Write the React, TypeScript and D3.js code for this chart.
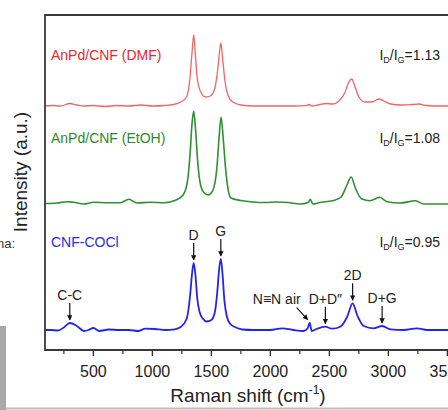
import React from 'react';
import * as d3 from 'd3';

// ---------- data (Raman shift cm-1, relative intensity a.u.) ----------
const cnfCoclSpectrum: [number, number][] = [
  [90, 0], [140, 0], [200, -0.5], [250, 2.5], [300, 7], [360, 4], [420, -1], [460, 0], [500, 2], [550, -1],
  [630, 0.5], [720, 0], [800, 0], [880, -1], [940, 1.3], [1020, 1], [1110, 0], [1190, 0.7], [1240, 3],
  [1290, 11], [1320, 35], [1335, 55], [1350, 67], [1365, 55], [1380, 32], [1400, 18], [1430, 11], [1460, 8.5],
  [1500, 10], [1530, 18], [1550, 38], [1565, 60], [1580, 71], [1595, 55], [1610, 30], [1630, 14], [1660, 6],
  [1700, 3], [1730, 1.5], [1760, 0.5], [1860, 0], [2000, 0], [2100, 1.7], [2195, 0], [2280, -1], [2316, 1.7],
  [2333, 7.3], [2350, -1], [2396, 1.3], [2466, 3.3], [2523, 1.3], [2593, 3.3], [2650, 13], [2697, 26.7],
  [2735, 15], [2791, 4], [2875, 1.7], [2947, 4], [3017, 0.7], [3130, 0], [3243, 1.7], [3328, 0], [3500, 0], [3600, 0],
];

const etohSpectrum: [number, number][] = [
  [90, -0.5], [190, 0], [280, 1.3], [330, 0.7], [420, -1], [500, 0.7], [620, 0.3], [730, 0.3], [800, 3.7],
  [870, 0], [980, 0.7], [1100, 0.3], [1200, 3], [1260, 8], [1295, 20], [1320, 50], [1335, 78], [1350, 92],
  [1365, 75], [1385, 40], [1410, 17], [1440, 10], [1475, 8], [1510, 12], [1545, 33], [1565, 65], [1582, 86],
  [1600, 65], [1620, 35], [1640, 15], [1665, 5], [1750, 2.5], [1850, 1], [1950, 0.5], [2050, 1], [2150, 0.5],
  [2250, -1], [2320, 0.5], [2338, 3.7], [2360, -1], [2420, 0.5], [2480, 1.5], [2550, 3], [2600, 6], [2645, 17],
  [2685, 26], [2720, 15], [2775, 4], [2845, 2.3], [2925, 5.7], [2990, 1.3], [3100, 0], [3230, 2.3], [3300, -1],
  [3500, -1], [3600, -1],
];

const dmfSpectrum: [number, number][] = [
  [90, 0], [160, 0.5], [220, 0], [300, 2.5], [360, 1], [420, 0], [500, 0.5], [600, -0.5], [700, 0.5], [800, 0],
  [900, 1], [1000, 0], [1100, 0.5], [1180, 1.5], [1240, 4], [1290, 9], [1320, 30], [1335, 52], [1350, 71],
  [1365, 50], [1380, 28], [1410, 14], [1450, 9], [1490, 10], [1530, 18], [1555, 38], [1570, 55], [1580, 63],
  [1595, 48], [1615, 25], [1640, 11], [1680, 4], [1750, 1], [1850, 0], [2000, 0], [2200, 0], [2300, 0.3],
  [2330, 1.5], [2350, 0], [2420, 1.5], [2470, 2.5], [2530, 2], [2580, 5], [2630, 13], [2665, 24], [2690, 27],
  [2715, 20], [2750, 9], [2800, 4], [2860, 4], [2920, 7], [2960, 5], [3020, 2], [3100, 1], [3200, 1.5],
  [3260, 2], [3320, 0.5], [3450, 0], [3600, 0],
];

const seriesNames = ['AnPd/CNF (DMF)', 'AnPd/CNF (EtOH)', 'CNF-COCl'];
const seriesOffsets = [244, 147, 20];
const ratioValues = ['1.13', '1.08', '0.95'];

const peakLabels = ['C-C', 'D', 'G', 'N\u2261N air', 'D+D\u2033', '2D', 'D+G'];
const peakPositions = [300, 1350, 1580, 2333, 2466, 2697, 2947];

const majorTicks = [500, 1000, 1500, 2000, 2500, 3000, 3500];
const minorTicks = [250, 750, 1250, 1750, 2250, 2750, 3250];

// ---------- layout ----------
const W = 448;
const H = 410;
const L = 45, T = 15, B = 350, R = 460;
const FONT = '"Liberation Sans", Arial, Helvetica, sans-serif';

const xScale = d3.scaleLinear().domain([90, 3600]).range([L, L + 3510 * 0.118]);
const yScale = d3.scaleLinear().domain([0, 335]).range([B, T]);

const lineColors = ['#f26466', '#2f8f32', '#2323ee'];
const textColors = ['#e8262c', '#2a8a2e', '#2a2ae8'];
const lineWidths = [1.3, 1.6, 1.8];
const labelBaselines = [60, 143, 247];

function valueAt(data: [number, number][], wn: number) {
  const i = d3.bisector((d: [number, number]) => d[0]).left(data, wn);
  if (i <= 0) return data[0][1];
  if (i >= data.length) return data[data.length - 1][1];
  const a = data[i - 1], b = data[i];
  const t = (wn - a[0]) / (b[0] - a[0]);
  return a[1] + t * (b[1] - a[1]);
}

export default function App() {
  const spectra = [dmfSpectrum, etohSpectrum, cnfCoclSpectrum];
  const lines = spectra.map((s, i) =>
    d3
      .line<[number, number]>()
      .x((d) => xScale(d[0]))
      .y((d) => yScale(d[1] + seriesOffsets[i]))
      .curve(d3.curveMonotoneX)(s) as string
  );

  const annos = peakLabels.map((lab, i) => {
    const wn = peakPositions[i];
    const px = xScale(wn);
    const py = yScale(valueAt(cnfCoclSpectrum, wn) + seriesOffsets[2]);
    return { lab, px, py, diag: i === 3 };
  });

  return (
    <svg
      width={W}
      height={H}
      style={{ position: 'absolute', left: 0, top: 0, background: '#fff' }}
      fontFamily={FONT}
    >
      <defs>
        <clipPath id="plot">
          <rect x={L} y={T} width={R - L} height={B - T} />
        </clipPath>
        <marker id="ah" viewBox="0 0 10 10" refX="9" refY="5" markerWidth="4.5" markerHeight="4.5" orient="auto">
          <path d="M0,0 L10,5 L0,10 z" fill="#111" />
        </marker>
      </defs>

      {/* page artefacts */}
      <rect x={0} y={326} width={6} height={84} fill="#a9a9a9" />
      <rect x={6} y={407.5} width={W - 6} height={2} fill="#bdbdbd" />
      <text x={-3} y={248} fontSize={13} fill="#333">na:</text>

      {/* spectra */}
      <g clipPath="url(#plot)">
        {lines.map((d, i) => (
          <path key={i} d={d} fill="none" stroke={lineColors[i]} strokeWidth={lineWidths[i]} strokeLinejoin="round" />
        ))}
      </g>

      {/* frame */}
      <path d={`M${R},${T} H${L} V${B} H${R}`} fill="none" stroke="#3a3a3a" strokeWidth={1.8} />

      {/* ticks */}
      {majorTicks.map((t) => (
        <g key={'M' + t}>
          <line x1={xScale(t)} x2={xScale(t)} y1={B} y2={B + 6} stroke="#333" strokeWidth={1.4} />
          <text x={xScale(t)} y={377} fontSize={16} textAnchor="middle" fill="#222">{t}</text>
        </g>
      ))}
      {minorTicks.map((t) => (
        <line key={'m' + t} x1={xScale(t)} x2={xScale(t)} y1={B} y2={B + 4} stroke="#333" strokeWidth={1.2} />
      ))}

      {/* axis titles */}
      <text x={248} y={402} fontSize={19} textAnchor="middle" fill="#222">
        Raman shift (cm
        <tspan fontSize={12} dy={-8}>-1</tspan>
        <tspan dy={8}>)</tspan>
      </text>
      <text transform="translate(27,172) rotate(-90)" fontSize={19} textAnchor="middle" fill="#222">
        Intensity (a.u.)
      </text>

      {/* series labels and ratios */}
      {seriesNames.map((n, i) => (
        <g key={n}>
          <text x={51} y={labelBaselines[i]} fontSize={14} fill={textColors[i]}>{n}</text>
          <text x={440} y={labelBaselines[i]} fontSize={14} textAnchor="end" fill="#222">
            I<tspan fontSize={9} dy={3}>D</tspan>
            <tspan dy={-3}>/I</tspan>
            <tspan fontSize={9} dy={3}>G</tspan>
            <tspan dy={-3}>={ratioValues[i]}</tspan>
          </text>
        </g>
      ))}

      {/* peak annotations */}
      {annos.map((a) =>
        a.diag ? (
          <g key={a.lab}>
            <line x1={a.px - 13} y1={a.py - 15} x2={a.px - 2} y2={a.py - 3} stroke="#111" strokeWidth={1.2} markerEnd="url(#ah)" />
            <text x={a.px - 9} y={a.py - 18.5} fontSize={14} textAnchor="end" fill="#222">{a.lab}</text>
          </g>
        ) : (
          <g key={a.lab}>
            <line x1={a.px} y1={a.py - 20} x2={a.px} y2={a.py - 3} stroke="#111" strokeWidth={1.2} markerEnd="url(#ah)" />
            <text x={a.px} y={a.py - 23} fontSize={14} textAnchor="middle" fill="#222">{a.lab}</text>
          </g>
        )
      )}
    </svg>
  );
}
